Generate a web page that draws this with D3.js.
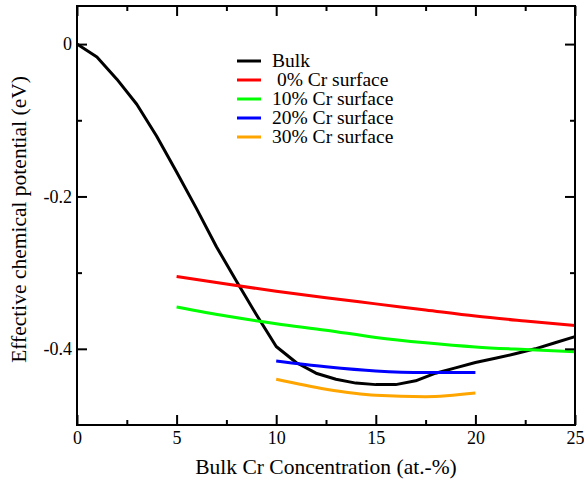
<!DOCTYPE html>
<html lang="en">
<head>
<meta charset="utf-8">
<title>Effective chemical potential</title>
<style>
  body { margin: 0; background: #fff; }
</style>
</head>
<body>
<svg id="chart" width="584" height="484" font-family="'Liberation Serif', 'DejaVu Serif', serif"></svg>

<script src="https://d3js.org/d3.v7.min.js"></script>
<script>
  // bulk curve, one point per at.-%
  var bulkConc = [0,1,2,3,4,5,6,7,8,9,10,11,12,13,14,15,16,17,18,19,20,21,22,23,24,25];
  var bulkMu = [0, -0.017, -0.046, -0.079, -0.121, -0.168, -0.216, -0.266, -0.311, -0.355,
                -0.397, -0.418, -0.432, -0.440, -0.445, -0.447, -0.447, -0.442, -0.432, -0.425,
                -0.418, -0.4125, -0.4065, -0.400, -0.392, -0.384];

  // surface curves
  var surfConcWide = [5, 7.5, 10, 12.5, 15, 17.5, 20, 22.5, 25];
  var surf0 = [-0.305, -0.315, -0.3245, -0.333, -0.341, -0.349, -0.357, -0.3635, -0.3695];
  var surf10 = [-0.345, -0.357, -0.367, -0.3755, -0.385, -0.392, -0.3975, -0.401, -0.404];
  var surfConcNarrow = [10, 12.5, 15, 17.5, 20];
  var surf20 = [-0.416, -0.4235, -0.429, -0.431, -0.431];
  var surf30 = [-0.440, -0.453, -0.461, -0.4628, -0.458];

  var seriesNames = ["Bulk", " 0% Cr surface", "10% Cr surface", "20% Cr surface", "30% Cr surface"];
  var seriesColors = ["#000000", "#ff0000", "#00ff00", "#0000ff", "#ffa500"];

  var xTicks = [0, 5, 10, 15, 20, 25];
  var xMinor = [2.5, 7.5, 12.5, 17.5, 22.5];
  var yTicks = [0, -0.2, -0.4];
  var yMinor = [-0.1, -0.3];

  var serif = "'Liberation Serif', 'DejaVu Serif', serif";
  var svg = d3.select("#chart");
  // note: "top" is taken by window.top, so use a prefix
  var pLeft = 77, pRight = 575, pTop = 6, pBottom = 425;

  var x = d3.scaleLinear().domain([0, 25]).range([pLeft, pRight]);
  var y = d3.scaleLinear().domain([-0.5, 0.05]).range([pBottom, pTop]);

  function zip(xs, ys) {
    return xs.map((d, i) => [d, ys[i]]);
  }

  var series = [
    {pts: zip(bulkConc, bulkMu), curve: d3.curveLinear},
    {pts: zip(surfConcWide, surf0), curve: d3.curveMonotoneX},
    {pts: zip(surfConcWide, surf10), curve: d3.curveMonotoneX},
    {pts: zip(surfConcNarrow, surf20), curve: d3.curveMonotoneX},
    {pts: zip(surfConcNarrow, surf30), curve: d3.curveMonotoneX}
  ];

  series.forEach((s, i) => {
    var line = d3.line()
      .x(d => x(d[0]))
      .y(d => y(d[1]))
      .curve(s.curve);
    svg.append("path")
      .attr("d", line(s.pts))
      .attr("fill", "none")
      .attr("stroke", seriesColors[i])
      .attr("stroke-width", 3)
      .attr("stroke-linejoin", "round");
  });

  // axes, ticks pointing inward on all sides
  function styleAxis(g) {
    g.attr("font-family", serif);
    g.select(".domain").remove();
    g.selectAll(".tick line").attr("stroke", "#000").attr("stroke-width", 2);
    g.selectAll(".tick text").attr("font-size", 18).attr("fill", "#000");
  }

  var fmtY = d => d === 0 ? "0" : d.toFixed(1);

  svg.append("g").attr("transform", `translate(0,${pBottom})`)
    .call(d3.axisBottom(x).tickValues(xTicks).tickSize(-10).tickPadding(6))
    .call(styleAxis);
  svg.append("g").attr("transform", `translate(0,${pBottom})`)
    .call(d3.axisBottom(x).tickValues(xMinor).tickSize(-5).tickFormat(""))
    .call(styleAxis);
  svg.append("g").attr("transform", `translate(0,${pTop})`)
    .call(d3.axisTop(x).tickValues(xTicks).tickSize(-10).tickFormat(""))
    .call(styleAxis);
  svg.append("g").attr("transform", `translate(0,${pTop})`)
    .call(d3.axisTop(x).tickValues(xMinor).tickSize(-5).tickFormat(""))
    .call(styleAxis);

  svg.append("g").attr("transform", `translate(${pLeft},0)`)
    .call(d3.axisLeft(y).tickValues(yTicks).tickSize(-10).tickPadding(5).tickFormat(fmtY))
    .call(styleAxis);
  svg.append("g").attr("transform", `translate(${pLeft},0)`)
    .call(d3.axisLeft(y).tickValues(yMinor).tickSize(-5).tickFormat(""))
    .call(styleAxis);
  svg.append("g").attr("transform", `translate(${pRight},0)`)
    .call(d3.axisRight(y).tickValues(yTicks).tickSize(-10).tickFormat(""))
    .call(styleAxis);
  svg.append("g").attr("transform", `translate(${pRight},0)`)
    .call(d3.axisRight(y).tickValues(yMinor).tickSize(-5).tickFormat(""))
    .call(styleAxis);

  // frame
  svg.append("rect")
    .attr("x", pLeft).attr("y", pTop)
    .attr("width", pRight - pLeft).attr("height", pBottom - pTop)
    .attr("fill", "none").attr("stroke", "#000").attr("stroke-width", 2);

  // axis titles
  svg.append("text")
    .attr("x", (pLeft + pRight) / 2).attr("y", 474)
    .attr("text-anchor", "middle")
    .attr("font-family", serif)
    .attr("font-size", 21.5)
    .text("Bulk Cr Concentration (at.-%)");

  svg.append("text")
    .attr("transform", `translate(26,${(pTop + pBottom) / 2 + 4}) rotate(-90)`)
    .attr("text-anchor", "middle")
    .attr("font-family", serif)
    .attr("font-size", 21.5)
    .text("Effective chemical potential (eV)");

  // legend
  var legend = svg.append("g");
  seriesNames.forEach((name, i) => {
    var ly = 61 + i * 19;
    legend.append("line")
      .attr("x1", 237).attr("x2", 261)
      .attr("y1", ly).attr("y2", ly)
      .attr("stroke", seriesColors[i]).attr("stroke-width", 3);
    legend.append("text")
      .attr("x", 272).attr("y", ly + 6)
      .attr("font-family", serif)
      .attr("font-size", 19.5)
      .style("white-space", "pre")
      .text(name);
  });
</script>
</body>
</html>
